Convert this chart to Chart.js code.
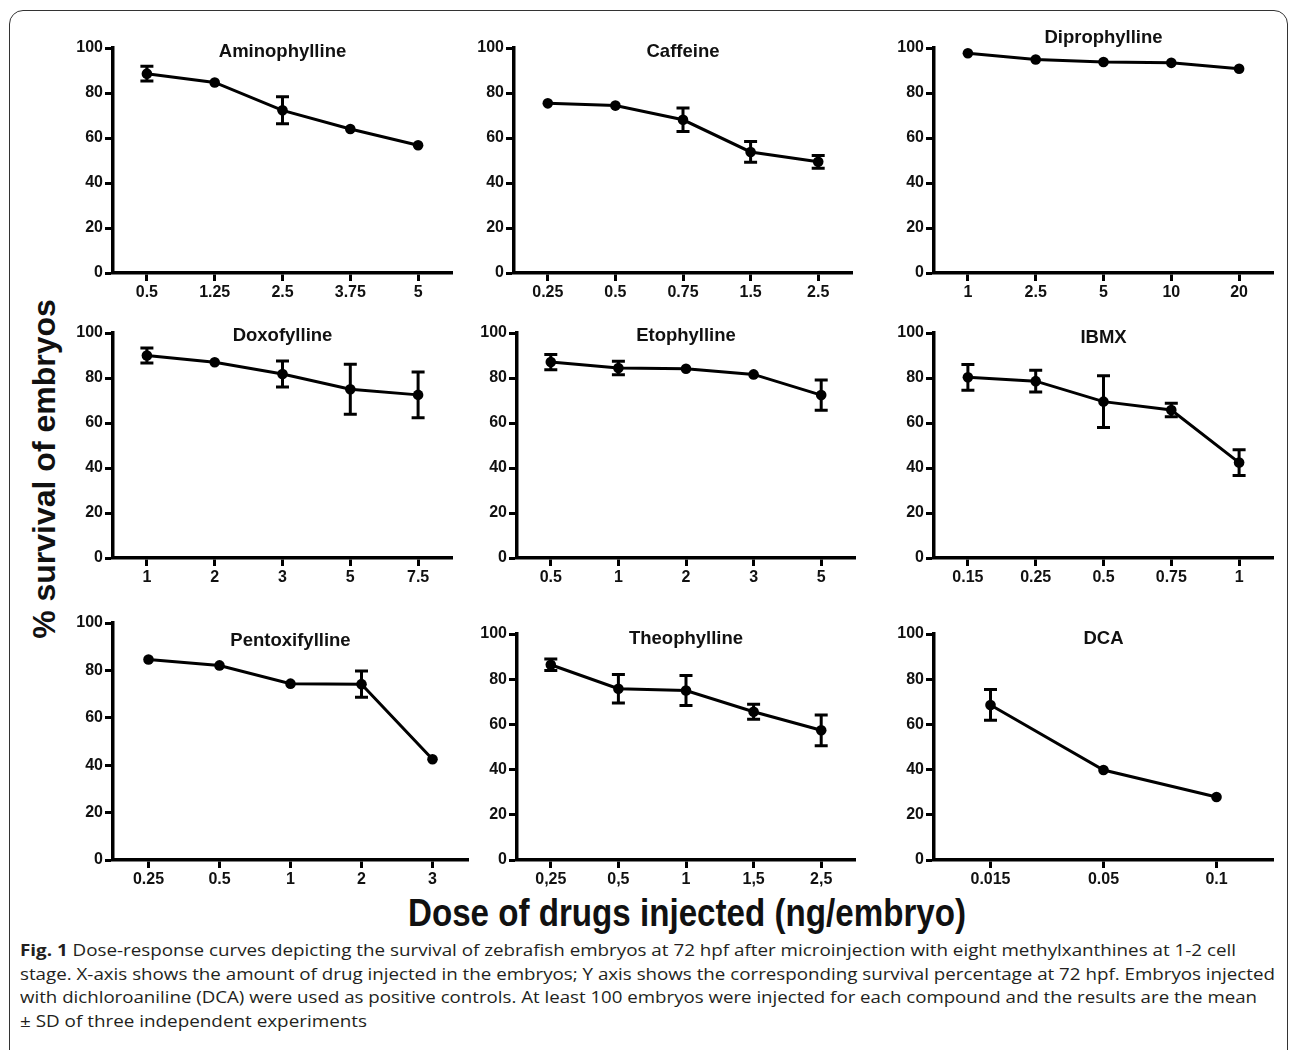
<!DOCTYPE html>
<html>
<head>
<meta charset="utf-8">
<script src="https://cdn.jsdelivr.net/npm/chart.js@4.4.1/dist/chart.umd.min.js"></script>
<style>
  body { margin: 0; background: #fff; width: 1290px; height: 1050px; overflow: hidden; position: relative;
         font-family: "Liberation Sans", Arial, sans-serif; }
  #frame { position: absolute; left: 9px; top: 10px; width: 1277px; height: 1100px;
           border: 1.5px solid #333; border-radius: 14px; }
  canvas { position: absolute; }
  #ytitle { position: absolute; left: -156px; top: 453px; width: 400px; height: 32px; line-height: 32px;
            text-align: center; font-weight: bold; font-size: 32px; color: #111; transform: rotate(-90deg); white-space: nowrap; }
  #xtitle { position: absolute; left: 287px; top: 893px; width: 800px; line-height: 39px; text-align: center;
            font-weight: bold; font-size: 39px; color: #111; transform: scaleX(0.85); white-space: nowrap; }
  #caption { position: absolute; left: 20px; top: 939px; font-family: "Open Sans", "Noto Sans", sans-serif;
             font-size: 16px; line-height: 23.7px; color: #231f20; }
  #caption div { white-space: nowrap; transform-origin: 0 50%; }
  #caption b { font-weight: bold; }
</style>
</head>
<body>
<div id="frame"></div>
<div id="ytitle">% survival of embryos</div>
<div id="xtitle">Dose of drugs injected (ng/embryo)</div>
<div id="caption">
  <div data-w="1216"><b>Fig. 1</b> Dose-response curves depicting the survival of zebrafish embryos at 72 hpf after microinjection with eight methylxanthines at 1-2 cell</div>
  <div data-w="1255">stage. X-axis shows the amount of drug injected in the embryos; Y axis shows the corresponding survival percentage at 72 hpf. Embryos injected</div>
  <div data-w="1237">with dichloroaniline (DCA) were used as positive controls. At least 100 embryos were injected for each compound and the results are the mean</div>
  <div data-w="347">± SD of three independent experiments</div>
</div>
<script>
// dose labels, mean survival (%) and SD for each compound
var aminoDose = ['0.5', '1.25', '2.5', '3.75', '5'];
var aminoMean = [88.6, 84.7, 72.3, 64.0, 56.8];
var aminoSd   = [3.3, 0, 6.0, 0, 0];

var caffDose = ['0.25', '0.5', '0.75', '1.5', '2.5'];
var caffMean = [75.4, 74.4, 68.1, 53.8, 49.4];
var caffSd   = [0, 0, 5.2, 4.6, 2.8];

var diproDose = ['1', '2.5', '5', '10', '20'];
var diproMean = [97.7, 94.9, 93.8, 93.4, 90.8];
var diproSd   = [0, 0, 0, 0, 0];

var doxoDose = ['1', '2', '3', '5', '7.5'];
var doxoMean = [90.0, 87.0, 81.8, 75.0, 72.5];
var doxoSd   = [3.3, 0, 5.8, 11.1, 10.2];

var etoDose = ['0.5', '1', '2', '3', '5'];
var etoMean = [87.1, 84.4, 84.1, 81.6, 72.4];
var etoSd   = [3.4, 3.0, 0, 0, 6.7];

var ibmxDose = ['0.15', '0.25', '0.5', '0.75', '1'];
var ibmxMean = [80.3, 78.6, 69.5, 65.8, 42.4];
var ibmxSd   = [5.7, 4.8, 11.5, 3.0, 5.7];

var pentoDose = ['0.25', '0.5', '1', '2', '3'];
var pentoMean = [84.6, 82.1, 74.4, 74.2, 42.5];
var pentoSd   = [0, 0, 0, 5.5, 0];

var theoDose = ['0,25', '0,5', '1', '1,5', '2,5'];
var theoMean = [86.4, 75.8, 75.0, 65.6, 57.4];
var theoSd   = [2.5, 6.3, 6.6, 3.3, 6.8];

var dcaDose = ['0.015', '0.05', '0.1'];
var dcaMean = [68.6, 39.8, 27.9];
var dcaSd   = [6.8, 0, 0];

var yTicks = [0, 20, 40, 60, 80, 100];

// where each small plot sits on the page (plot area edges, px)
var panels = [
  { title: 'Aminophylline',  dose: aminoDose, mean: aminoMean, sd: aminoSd, left: 113, right: 452, top: 48,  bottom: 273, dy: 2 },
  { title: 'Caffeine',       dose: caffDose,  mean: caffMean,  sd: caffSd,  left: 514, right: 852, top: 48,  bottom: 273, dy: 2 },
  { title: 'Diprophylline',  dose: diproDose, mean: diproMean, sd: diproSd, left: 934, right: 1273, top: 48, bottom: 273, dy: -12 },
  { title: 'Doxofylline',    dose: doxoDose,  mean: doxoMean,  sd: doxoSd,  left: 113, right: 452, top: 333, bottom: 558, dy: 1 },
  { title: 'Etophylline',    dose: etoDose,   mean: etoMean,   sd: etoSd,   left: 517, right: 855, top: 333, bottom: 558, dy: 1 },
  { title: 'IBMX',           dose: ibmxDose,  mean: ibmxMean,  sd: ibmxSd,  left: 934, right: 1273, top: 333, bottom: 558, dy: 3 },
  { title: 'Pentoxifylline', dose: pentoDose, mean: pentoMean, sd: pentoSd, left: 113, right: 468, top: 623, bottom: 860, dy: 16 },
  { title: 'Theophylline',   dose: theoDose,  mean: theoMean,  sd: theoSd,  left: 517, right: 855, top: 634, bottom: 860, dy: 3 },
  { title: 'DCA',            dose: dcaDose,   mean: dcaMean,   sd: dcaSd,   left: 934, right: 1273, top: 634, bottom: 860, dy: 3 }
];

var Y_W = 60, X_H = 32, PAD_T = 28, PAD_R = 24;
var tickFont = { family: '"Liberation Sans", Arial, sans-serif', size: 16, weight: 'bold' };

// mean +/- SD bars with caps
var errorBars = {
  id: 'errorBars',
  afterDatasetsDraw: function (chart, args, opts) {
    var ctx = chart.ctx, y = chart.scales.y;
    var vals = chart.data.datasets[0].data;
    var sd = opts.sd || [];
    ctx.save();
    ctx.strokeStyle = '#000';
    ctx.lineWidth = 3;
    chart.getDatasetMeta(0).data.forEach(function (pt, i) {
      if (!sd[i]) return;
      var yt = y.getPixelForValue(vals[i] + sd[i]);
      var yb = y.getPixelForValue(vals[i] - sd[i]);
      ctx.beginPath();
      ctx.moveTo(pt.x, yt); ctx.lineTo(pt.x, yb);
      ctx.moveTo(pt.x - 6.5, yt); ctx.lineTo(pt.x + 6.5, yt);
      ctx.moveTo(pt.x - 6.5, yb); ctx.lineTo(pt.x + 6.5, yb);
      ctx.stroke();
    });
    ctx.restore();
  }
};

// compound name drawn over the plot
var panelTitle = {
  id: 'panelTitle',
  afterDraw: function (chart, args, opts) {
    var a = chart.chartArea, ctx = chart.ctx;
    ctx.save();
    ctx.font = 'bold 18.5px "Liberation Sans", Arial, sans-serif';
    ctx.fillStyle = '#111';
    ctx.textAlign = 'center';
    ctx.textBaseline = 'alphabetic';
    ctx.fillText(opts.text, (a.left + a.right) / 2, a.top + opts.dy + 6.5);
    ctx.restore();
  }
};

panels.forEach(function (p) {
  var c = document.createElement('canvas');
  c.width = Y_W + (p.right - p.left) + PAD_R;
  c.height = PAD_T + (p.bottom - p.top) + X_H;
  c.style.left = (p.left - Y_W) + 'px';
  c.style.top = (p.top - PAD_T) + 'px';
  document.body.appendChild(c);

  new Chart(c, {
    type: 'line',
    data: {
      labels: p.dose,
      datasets: [{
        data: p.mean,
        borderColor: '#000',
        borderWidth: 3,
        pointRadius: 5.3,
        pointBackgroundColor: '#000',
        pointBorderColor: '#000',
        pointBorderWidth: 0,
        tension: 0,
        clip: false
      }]
    },
    plugins: [errorBars, panelTitle],
    options: {
      responsive: false,
      animation: false,
      layout: { padding: { top: PAD_T, right: PAD_R, left: 0, bottom: 0 } },
      plugins: {
        legend: { display: false },
        tooltip: { enabled: false },
        errorBars: { sd: p.sd },
        panelTitle: { text: p.title, dy: p.dy }
      },
      scales: {
        x: {
          type: 'category',
          offset: true,
          afterFit: function (s) { s.height = X_H; },
          grid: { drawOnChartArea: false, drawTicks: true, tickLength: 8, tickWidth: 3, tickColor: '#000', offset: false },
          border: { display: true, color: '#000', width: 3.5 },
          ticks: { color: '#111', font: tickFont, padding: 2, maxRotation: 0, autoSkip: false }
        },
        y: {
          min: 0,
          max: 100,
          afterFit: function (s) { s.width = Y_W; },
          afterBuildTicks: function (s) { s.ticks = yTicks.map(function (v) { return { value: v }; }); },
          grid: { drawOnChartArea: false, drawTicks: true, tickLength: 8, tickWidth: 3, tickColor: '#000' },
          border: { display: true, color: '#000', width: 3.5 },
          ticks: { color: '#111', font: tickFont, padding: 2 }
        }
      }
    }
  });
});

// squeeze caption lines to the measured widths of the original
document.querySelectorAll('#caption div').forEach(function (d) {
  var span = document.createElement('span');
  span.innerHTML = d.innerHTML;
  d.innerHTML = '';
  d.appendChild(span);
  var actual = span.getBoundingClientRect().width;
  d.style.transform = 'scaleX(' + (parseFloat(d.dataset.w) / actual) + ')';
});
</script>
</body>
</html>
